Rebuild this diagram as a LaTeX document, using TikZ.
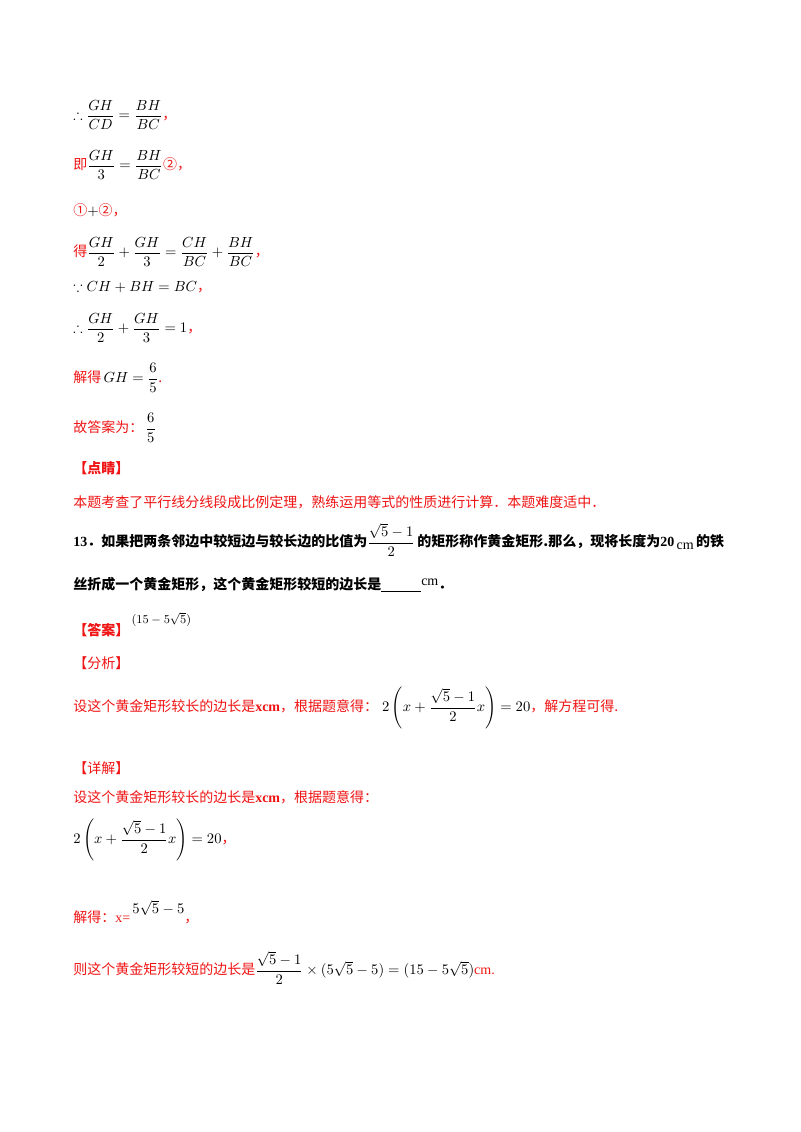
\documentclass[tikz,border=0pt]{standalone}
\usepackage{amsmath,amssymb}
\usepackage{fontspec}
\setmainfont{Liberation Serif}
\newfontfamily\cjk{Noto Sans CJK SC}
\definecolor{rd}{RGB}{240,20,20}
\newcommand{\R}[1]{\textcolor{rd}{\cjk #1}}
\newcommand{\K}[1]{\textcolor{black}{#1}}
\begin{document}
\begin{tikzpicture}[x=0.75pt,y=-0.75pt,
  ln/.style={anchor=west,inner sep=0pt,font=\fontsize{10.5}{12}\selectfont,text=rd}]
\useasboundingbox[fill=white] (0,0) rectangle (800,1132);
\node[ln] (l1) at (73,115) {\K{$\therefore\dfrac{GH}{CD}=\dfrac{BH}{BC}$}\R{，}};
\node[ln] (l2) at (73,165) {\R{即}\K{$\dfrac{GH}{3}=\dfrac{BH}{BC}$}\R{②，}};
\node[ln] (l3) at (73,210) {\R{①}\K{$+$}\R{②，}};
\node[ln] (l4) at (73,252) {\R{得}\K{$\dfrac{GH}{2}+\dfrac{GH}{3}=\dfrac{CH}{BC}+\dfrac{BH}{BC}$}\R{，}};
\node[ln] (l5) at (73,287) {\K{$\because CH+BH=BC$}\R{，}};
\node[ln] (l6) at (73,328) {\K{$\therefore\dfrac{GH}{2}+\dfrac{GH}{3}=1$}\R{，}};
\node[ln] (l7) at (73,378) {\R{解得}\,\K{$GH=\dfrac{6}{5}$}\R{.}};
\node[ln] (l8) at (73,428) {\R{故答案为：}\,\K{$\dfrac{6}{5}$}};
\node[ln] (l9) at (73,468) {\textcolor{rd}{\cjk\bfseries 【点睛】}};
\node[ln] (l10) at (73,502) {\R{本题考查了平行线分线段成比例定理，熟练运用等式的性质进行计算．本题难度适中．}};
\node[ln,text=black] (q1) at (73,540) {\textbf{13}{\cjk\bfseries ．如果把两条邻边中较短边与较长边的比值为}$\dfrac{\sqrt5-1}{2}$\,{\cjk\bfseries 的矩形称作黄金矩形.那么，现将长度为}\textbf{20}\,\raisebox{-2pt}{cm}\,{\cjk\bfseries 的铁}};
\node[ln,text=black] (q2) at (73,585) {{\cjk\bfseries 丝折成一个黄金矩形，这个黄金矩形较短的边长是}\underline{\hspace{30pt}}\raisebox{3pt}{cm}{\cjk\bfseries ．}};
\node[ln] (a1) at (73,625) {\textcolor{rd}{\cjk\bfseries 【答案】}\,\raisebox{9pt}{\K{\fontsize{9}{10}\selectfont$(15-5\sqrt5)$}}};
\node[ln] (a2) at (73,663) {\R{【分析】}};
\node[ln] (a3) at (73,708) {\R{设这个黄金矩形较长的边长是}\textcolor{rd}{\textbf{xcm}}\R{，根据题意得：}\;\K{$2\left(x+\dfrac{\sqrt5-1}{2}x\right)=20$}\R{，解方程可得.}};
\node[ln] (a4) at (73,768) {\R{【详解】}};
\node[ln] (a5) at (73,797) {\R{设这个黄金矩形较长的边长是}\textcolor{rd}{\textbf{xcm}}\R{，根据题意得：}};
\node[ln] (a6) at (73,840) {\K{$2\left(x+\dfrac{\sqrt5-1}{2}x\right)=20$}\R{，}};
\node[ln] (a7) at (73,912) {\R{解得：}\textcolor{rd}{x=}\,\raisebox{7pt}{\K{$5\sqrt5-5$}}\R{，}};
\node[ln] (a8) at (73,968) {\R{则这个黄金矩形较短的边长是}\K{$\dfrac{\sqrt5-1}{2}\times(5\sqrt5-5)=(15-5\sqrt5)$}\textcolor{rd}{cm.}};
\end{tikzpicture}
\end{document}
